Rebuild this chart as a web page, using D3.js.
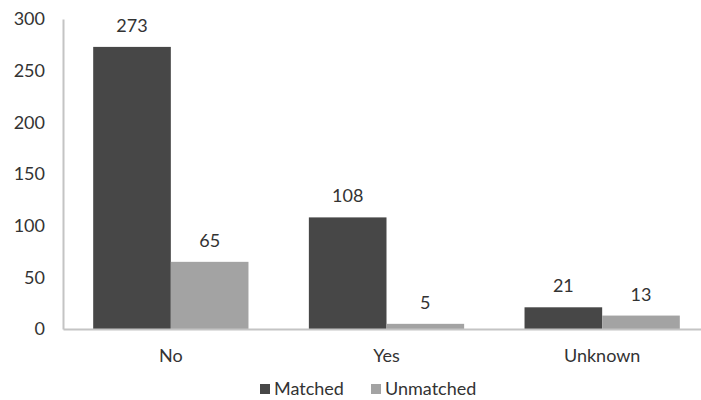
<!DOCTYPE html>
<html>
<head>
<meta charset="utf-8">
<script src="https://cdn.jsdelivr.net/npm/d3@7"></script>
<style>
  body { margin: 0; background: #fff; }
  text { font-family: "Lato", "Open Sans", sans-serif; fill: #333; }
</style>
</head>
<body>
<script>
const width = 701;
const height = 400;

const categories = ["No", "Yes", "Unknown"];
const seriesNames = ["Matched", "Unmatched"];
const matched = [273, 108, 21];
const unmatched = [65, 5, 13];
const yTicks = [0, 50, 100, 150, 200, 250, 300];
const colors = ["#474747", "#a3a3a3"];

const svg = d3.select("body").append("svg")
    .attr("width", width)
    .attr("height", height);

const x0 = d3.scaleBand()
    .domain(categories)
    .range([63, 710])
    .paddingInner(0.28)
    .paddingOuter(0.14);

const x1 = d3.scaleBand()
    .domain(seriesNames)
    .range([0, x0.bandwidth()]);

const y = d3.scaleLinear()
    .domain([0, 300])
    .range([329, 19]);

// y axis: labels only, plus a light line
const yAxis = svg.append("g")
    .attr("transform", "translate(63,0)")
    .call(d3.axisLeft(y).tickValues(yTicks).tickSize(0).tickPadding(18));
yAxis.select(".domain").attr("stroke", "#c4c4c4").attr("stroke-width", 2);
yAxis.selectAll("text").style("font-size", "18px").attr("fill", "#333");

const rows = categories.map((c, i) => ({ cat: c, vals: [matched[i], unmatched[i]] }));

const groups = svg.selectAll(".grp")
    .data(rows)
    .join("g")
    .attr("class", "grp")
    .attr("transform", d => `translate(${x0(d.cat)},0)`);

groups.selectAll("rect")
    .data(d => d.vals.map((v, j) => ({ key: seriesNames[j], v, j })))
    .join("rect")
    .attr("x", d => x1(d.key))
    .attr("y", d => y(d.v))
    .attr("width", x1.bandwidth())
    .attr("height", d => y(0) - y(d.v))
    .attr("fill", d => colors[d.j]);

groups.selectAll(".val")
    .data(d => d.vals.map((v, j) => ({ key: seriesNames[j], v, j })))
    .join("text")
    .attr("class", "val")
    .attr("x", d => x1(d.key) + x1.bandwidth() / 2)
    .attr("y", d => y(d.v) - 15)
    .attr("text-anchor", "middle")
    .style("font-size", "18px")
    .text(d => d.v);

// x axis baseline
const xAxis = svg.append("g")
    .attr("transform", `translate(0,${y(0)})`)
    .call(d3.axisBottom(x0).tickSize(0).tickPadding(20));
xAxis.select(".domain").attr("stroke", "#c4c4c4").attr("stroke-width", 2);
xAxis.selectAll("text").style("font-size", "18px").attr("fill", "#333");

// legend
const legend = svg.append("g").attr("transform", "translate(260,389)");
const legX = [0, 111];
seriesNames.forEach((s, i) => {
    legend.append("rect")
        .attr("x", legX[i])
        .attr("y", -5)
        .attr("width", 10)
        .attr("height", 10)
        .attr("fill", colors[i]);
    legend.append("text")
        .attr("x", legX[i] + 14)
        .attr("y", 0)
        .attr("dy", "0.35em")
        .style("font-size", "18px")
        .text(s);
});
</script>
</body>
</html>
